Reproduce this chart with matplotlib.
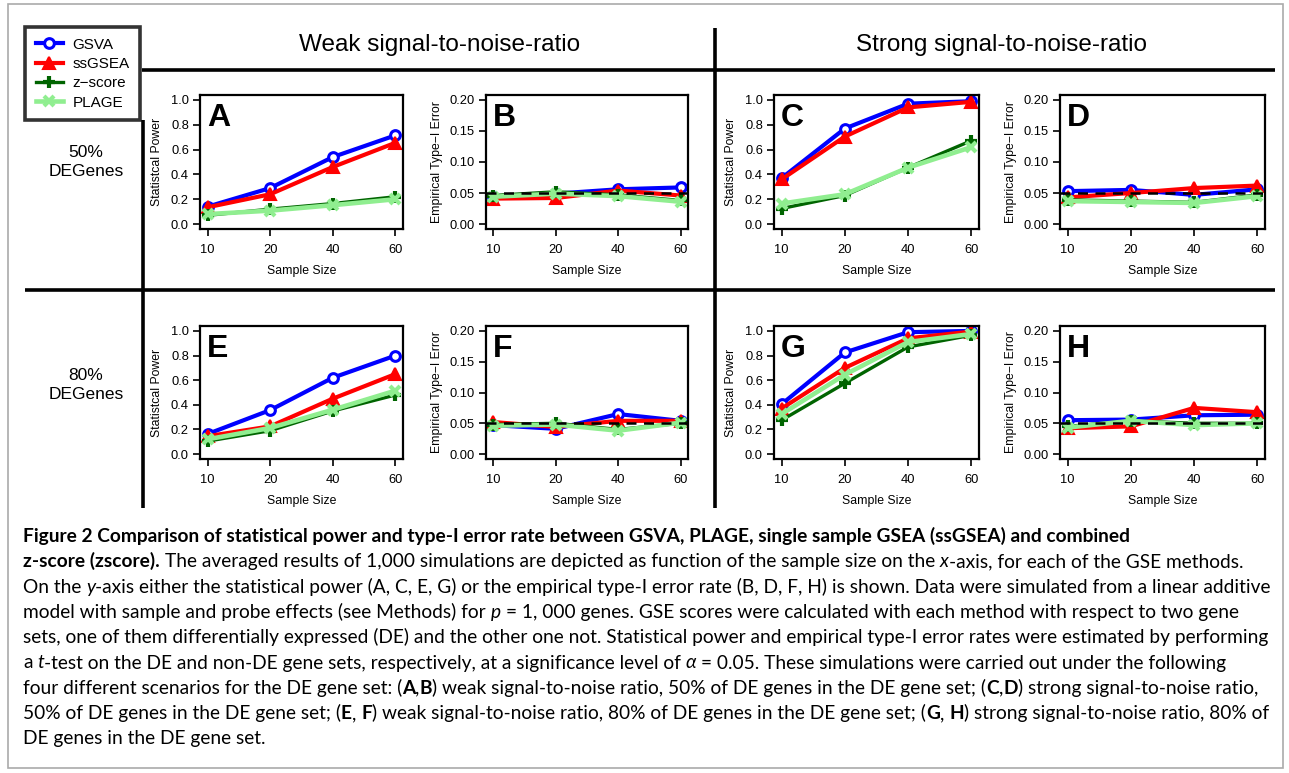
import numpy as np
import matplotlib
matplotlib.use("Agg")
import matplotlib.pyplot as plt
from matplotlib.patches import Rectangle

W, H = 1289, 773

sample_sizes = ["10", "20", "40", "60"]
methods = ["GSVA", "ssGSEA", "z\u2212score", "PLAGE"]
colors = ["#0000FF", "#FF0000", "#006400", "#90EE90"]

# values per panel, order: GSVA, ssGSEA, z-score, PLAGE
panel_A = [[0.14, 0.29, 0.54, 0.715],
           [0.135, 0.24, 0.46, 0.655],
           [0.07, 0.12, 0.165, 0.22],
           [0.08, 0.108, 0.152, 0.20]]
panel_B = [[0.044, 0.049, 0.056, 0.059],
           [0.041, 0.042, 0.054, 0.046],
           [0.046, 0.052, 0.047, 0.038],
           [0.044, 0.049, 0.045, 0.036]]
panel_C = [[0.37, 0.77, 0.97, 0.99],
           [0.36, 0.705, 0.94, 0.985],
           [0.125, 0.23, 0.455, 0.672],
           [0.165, 0.24, 0.455, 0.62]]
panel_D = [[0.053, 0.055, 0.047, 0.056],
           [0.043, 0.050, 0.058, 0.062],
           [0.039, 0.037, 0.035, 0.047],
           [0.037, 0.0355, 0.034, 0.045]]
panel_E = [[0.163, 0.357, 0.62, 0.80],
           [0.145, 0.225, 0.45, 0.65],
           [0.105, 0.19, 0.35, 0.48],
           [0.12, 0.212, 0.36, 0.515]]
panel_F = [[0.047, 0.041, 0.065, 0.054],
           [0.052, 0.044, 0.054, 0.054],
           [0.048, 0.05, 0.04, 0.05],
           [0.046, 0.048, 0.038, 0.051]]
panel_G = [[0.405, 0.825, 0.99, 1.0],
           [0.37, 0.70, 0.94, 0.995],
           [0.275, 0.575, 0.87, 0.965],
           [0.325, 0.645, 0.91, 0.975]]
panel_H = [[0.055, 0.056, 0.063, 0.064],
           [0.042, 0.045, 0.075, 0.068],
           [0.045, 0.054, 0.05, 0.05],
           [0.043, 0.054, 0.047, 0.05]]

plt.rcParams['font.family'] = ['Liberation Sans', 'DejaVu Sans']

fig = plt.figure(figsize=(W / 100, H / 100), dpi=100)


def px_axes(x0, y0, x1, y1, **kw):
    return fig.add_axes([x0 / W, 1 - y1 / H, (x1 - x0) / W, (y1 - y0) / H], **kw)


# full-figure overlay in pixel coordinates for frames, headers, caption
bg = px_axes(0, 0, W, H, zorder=-1)
bg.set_xlim(0, W)
bg.set_ylim(H, 0)
bg.axis('off')

bg.add_patch(Rectangle((8, 4), 1275, 764, fill=False, edgecolor='#aaaaaa', lw=1.2))
blk = dict(color='black', lw=2.6, solid_capstyle='butt')
bg.plot([142, 1275], [70, 70], **blk)
bg.plot([25, 1275], [290, 290], **blk)
bg.plot([143, 143], [120, 508], **blk)
bg.plot([715, 715], [28, 508], **blk)

bg.text(440, 45, "Weak signal-to-noise-ratio", ha='center', va='center', fontsize=17.5)
bg.text(1001, 45, "Strong signal-to-noise-ratio", ha='center', va='center', fontsize=17.5)
bg.text(86, 162, "50%\nDEGenes", ha='center', va='center', fontsize=12.5, linespacing=1.4)
bg.text(86, 385, "80%\nDEGenes", ha='center', va='center', fontsize=12.5, linespacing=1.4)

markers = [dict(marker='o', ms=7, mfc='white', mew=2.2),
           dict(marker='^', ms=8, mew=1.5),
           dict(marker='+', ms=9, mew=3),
           dict(marker='x', ms=7.5, mew=3)]
widths = [3.0, 3.0, 2.4, 3.3]

panels = [("A", (200, 95, 403, 229), "power", panel_A),
          ("B", (486, 95, 688, 229), "error", panel_B),
          ("C", (774, 95, 979, 229), "power", panel_C),
          ("D", (1060, 95, 1265, 229), "error", panel_D),
          ("E", (200, 326, 403, 459), "power", panel_E),
          ("F", (486, 326, 688, 459), "error", panel_F),
          ("G", (774, 326, 979, 459), "power", panel_G),
          ("H", (1060, 326, 1265, 459), "error", panel_H)]

x = np.arange(1, len(sample_sizes) + 1)
legend_handles = None
for letter, box, kind, series in panels:
    ax = px_axes(*box)
    hs = []
    for vals, col, mk, lw in zip(series, colors, markers, widths):
        h, = ax.plot(x, vals, color=col, lw=lw, mec=col, clip_on=False, **mk)
        hs.append(h)
    if legend_handles is None:
        legend_handles = hs
    ax.set_xlim(0.88, 4.12)
    ax.set_xticks(x)
    ax.set_xticklabels(sample_sizes)
    if kind == "power":
        ax.set_ylim(-0.04, 1.04)
        ax.set_yticks([0, 0.2, 0.4, 0.6, 0.8, 1.0])
        ax.set_yticklabels(["0.0", "0.2", "0.4", "0.6", "0.8", "1.0"])
        ax.set_ylabel("Statistcal Power", fontsize=8.8, labelpad=6)
    else:
        ax.set_ylim(-0.008, 0.208)
        ax.set_yticks([0, 0.05, 0.10, 0.15, 0.20])
        ax.set_yticklabels(["0.00", "0.05", "0.10", "0.15", "0.20"])
        ax.set_ylabel("Empirical Type\u2212I Error", fontsize=8.8, labelpad=5)
        ax.axhline(0.05, color='black', lw=1.8, ls=(0, (4, 3)), zorder=5)
    ax.set_xlabel("Sample Size", fontsize=8.8, labelpad=6)
    ax.tick_params(direction='out', length=5, width=1.2, labelsize=9.3, pad=3)
    ax.tick_params(axis='x', pad=6)
    for sp in ax.spines.values():
        sp.set_linewidth(1.6)
    ax.text(0.035, 0.83, letter, transform=ax.transAxes, ha='left', va='center',
            fontsize=23, fontweight='bold')

leg = fig.legend(legend_handles, methods, loc='upper left',
                 bbox_to_anchor=(25 / W, 1 - 27 / H), frameon=True, fancybox=False,
                 edgecolor='black', fontsize=11, handlelength=1.8, handletextpad=0.6,
                 labelspacing=0.35, borderpad=0.7, borderaxespad=0, numpoints=1)
leg.get_frame().set_linewidth(2.6)

# caption
cap_font = ['Lato', 'DejaVu Sans']
renderer = fig.canvas.get_renderer()


def text_w(s, size, weight='normal', style='normal'):
    t = bg.text(0, 0, s, fontsize=size, family=cap_font, fontweight=weight, fontstyle=style)
    w = t.get_window_extent(renderer).width
    t.remove()
    return w


R, B, I = 'r', 'b', 'i'
cap_lines = [
    [("Figure 2 Comparison of statistical power and type-I error rate between GSVA, PLAGE, single sample GSEA (ssGSEA) and combined", B)],
    [("z-score (zscore).", B), (" The averaged results of 1,000 simulations are depicted as function of the sample size on the ", R),
     ("x", I), ("-axis, for each of the GSE methods.", R)],
    [("On the ", R), ("y", I), ("-axis either the statistical power (A, C, E, G) or the empirical type-I error rate (B, D, F, H) is shown. Data were simulated from a linear additive", R)],
    [("model with sample and probe effects (see Methods) for ", R), ("p", I), (" = 1, 000 genes. GSE scores were calculated with each method with respect to two gene", R)],
    [("sets, one of them differentially expressed (DE) and the other one not. Statistical power and empirical type-I error rates were estimated by performing", R)],
    [("a ", R), ("t", I), ("-test on the DE and non-DE gene sets, respectively, at a significance level of ", R), ("\u03b1", I),
     (" = 0.05. These simulations were carried out under the following", R)],
    [("four different scenarios for the DE gene set: (", R), ("A", B), (",", R), ("B", B),
     (") weak signal-to-noise ratio, 50% of DE genes in the DE gene set; (", R), ("C", B), (",", R), ("D", B),
     (") strong signal-to-noise ratio,", R)],
    [("50% of DE genes in the DE gene set; (", R), ("E", B), (", ", R), ("F", B),
     (") weak signal-to-noise ratio, 80% of DE genes in the DE gene set; (", R), ("G", B), (", ", R), ("H", B),
     (") strong signal-to-noise ratio, 80% of", R)],
    [("DE genes in the DE gene set.", R)],
]

# fit font size so the widest plain line spans the caption width
ref_w = text_w(cap_lines[4][0][0], 10)
cap_size = 10 * (1252 / ref_w)
space_w = text_w("a a", cap_size) - text_w("aa", cap_size)

for i, segs in enumerate(cap_lines):
    xc = 23
    yb = 542 + 25.3 * i
    for s, kind in segs:
        lead = len(s) - len(s.lstrip(' '))
        trail = len(s) - len(s.rstrip(' '))
        core = s.strip(' ')
        xc += lead * space_w
        kw = dict(fontsize=cap_size, family=cap_font, va='baseline', ha='left')
        if kind == B:
            kw['fontweight'] = 'bold'
        if kind == I:
            kw['fontstyle'] = 'italic'
        t = bg.text(xc, yb, core, **kw)
        xc += t.get_window_extent(renderer).width + trail * space_w

fig.savefig("out.png", dpi=100)
